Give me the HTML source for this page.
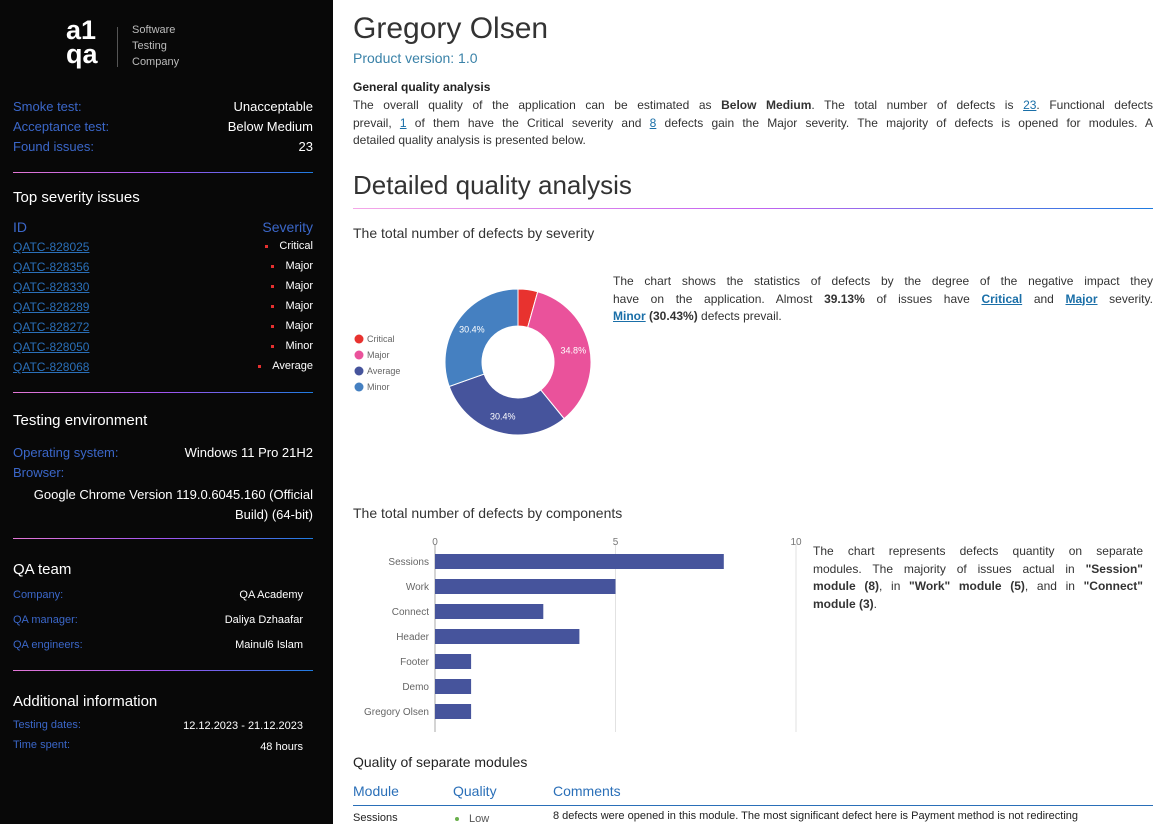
<!DOCTYPE html>
<html><head><meta charset="utf-8">
<style>
*{margin:0;padding:0;box-sizing:border-box}
body{width:1157px;height:824px;overflow:hidden;background:#fff;font-family:"Liberation Sans",sans-serif;position:relative}
.a{position:absolute;white-space:nowrap}
#side{position:absolute;left:0;top:0;width:333px;height:824px;background:#080808;color:#fff}
.lb{color:#3b67c9;font-size:13px}
.vl{color:#fff;font-size:13px;text-align:right}
.sm{font-size:11px}
.hr{position:absolute;left:13px;width:300px;height:1px;background:linear-gradient(90deg,#e377d5,#a154f0,#1e7be0)}
.h3{font-size:15px;color:#fff}
.lnk{color:#2a6fb8;text-decoration:underline;font-size:12px}
.dot{display:inline-block;width:3px;height:3px;background:#e53030;margin-right:11px;vertical-align:middle}
.p{font-size:12px;color:#333;line-height:17.5px;text-align:justify;text-align-last:justify}
.p.last{text-align-last:left}
.u{color:#1a6fa8;text-decoration:underline}
</style></head><body>
<div id="side">
 <div class="a" style="left:66px;top:18px;font-size:27px;font-weight:bold;line-height:24px;color:#fff">a1<br>qa</div>
 <div class="a" style="left:117px;top:27px;width:1px;height:40px;background:#555"></div>
 <div class="a" style="left:132px;top:22px;font-size:11px;line-height:16px;color:#bbb">Software<br>Testing<br>Company</div>

 <div class="a lb" style="left:13px;top:99px">Smoke test:</div><div class="a vl" style="right:20px;top:99px">Unacceptable</div>
 <div class="a lb" style="left:13px;top:119px">Acceptance test:</div><div class="a vl" style="right:20px;top:119px">Below Medium</div>
 <div class="a lb" style="left:13px;top:139px">Found issues:</div><div class="a vl" style="right:20px;top:139px">23</div>
 <div class="hr" style="top:172px"></div>

 <div class="a h3" style="left:13px;top:189px">Top severity issues</div>
 <div class="a lb" style="left:13px;top:219px;font-size:14px">ID</div><div class="a lb" style="right:20px;top:219px;font-size:14px">Severity</div>
 <div id="issues"></div>
 <div class="hr" style="top:392px"></div>

 <div class="a h3" style="left:13px;top:412px">Testing environment</div>
 <div class="a lb" style="left:13px;top:445px">Operating system:</div><div class="a vl" style="right:20px;top:445px">Windows 11 Pro 21H2</div>
 <div class="a lb" style="left:13px;top:465px">Browser:</div>
 <div class="a vl" style="right:20px;top:485px;line-height:20px">Google Chrome Version 119.0.6045.160 (Official<br>Build) (64-bit)</div>
 <div class="hr" style="top:538px"></div>

 <div class="a h3" style="left:13px;top:561px">QA team</div>
 <div class="a lb sm" style="left:13px;top:589px">Company:</div><div class="a vl sm" style="right:30px;top:589px">QA Academy</div>
 <div class="a lb sm" style="left:13px;top:614px">QA manager:</div><div class="a vl sm" style="right:30px;top:614px">Daliya Dzhaafar</div>
 <div class="a lb sm" style="left:13px;top:639px">QA engineers:</div><div class="a vl sm" style="right:30px;top:639px">Mainul6 Islam</div>
 <div class="hr" style="top:670px"></div>

 <div class="a h3" style="left:13px;top:693px">Additional information</div>
 <div class="a lb sm" style="left:13px;top:719px">Testing dates:</div><div class="a vl sm" style="right:30px;top:720px">12.12.2023 - 21.12.2023</div>
 <div class="a lb sm" style="left:13px;top:739px">Time spent:</div><div class="a vl sm" style="right:30px;top:741px">48 hours</div>
</div>

<div class="a" style="left:353px;top:12px;font-size:30px;color:#333">Gregory Olsen</div>
<div class="a" style="left:353px;top:50px;font-size:14px;color:#3a82a8">Product version: 1.0</div>
<div class="a" style="left:353px;top:80px;font-size:12px;font-weight:bold;color:#222">General quality analysis</div>
<div class="a" style="left:353px;top:97px;width:800px;white-space:normal">
 <div class="p">The overall quality of the application can be estimated as <b>Below Medium</b>. The total number of defects is <span class="u">23</span>. Functional defects</div>
 <div class="p">prevail, <span class="u">1</span> of them have the Critical severity and <span class="u">8</span> defects gain the Major severity. The majority of defects is opened for modules. A</div>
 <div class="p last">detailed quality analysis is presented below.</div>
</div>
<div class="a" style="left:353px;top:170px;font-size:26px;color:#333">Detailed quality analysis</div>
<div class="a" style="left:353px;top:208px;width:800px;height:1px;background:linear-gradient(90deg,#f4a8e8,#c463f0,#1e7be0)"></div>
<div class="a" style="left:353px;top:225px;font-size:14px;color:#333">The total number of defects by severity</div>

<svg class="a" id="pie" style="left:345px;top:275px" width="260" height="170"></svg>

<div class="a" style="left:613px;top:273px;width:540px;white-space:normal">
 <div class="p">The chart shows the statistics of defects by the degree of the negative impact they</div>
 <div class="p">have on the application. Almost <b>39.13%</b> of issues have <b class="u">Critical</b> and <b class="u">Major</b> severity.</div>
 <div class="p last"><b class="u">Minor</b> <b>(30.43%)</b> defects prevail.</div>
</div>

<div class="a" style="left:353px;top:505px;font-size:14px;color:#333">The total number of defects by components</div>
<svg class="a" id="bar" style="left:345px;top:530px" width="465" height="205"></svg>

<div class="a" style="left:813px;top:543px;width:330px;white-space:normal">
 <div class="p">The chart represents defects quantity on separate</div>
 <div class="p">modules. The majority of issues actual in <b>"Session"</b></div>
 <div class="p"><b>module (8)</b>, in <b>"Work" module (5)</b>, and in <b>"Connect"</b></div>
 <div class="p last"><b>module (3)</b>.</div>
</div>

<div class="a" style="left:353px;top:754px;font-size:14px;color:#222">Quality of separate modules</div>
<div class="a" style="left:353px;top:783px;font-size:14px;color:#2a6fb8">Module</div>
<div class="a" style="left:453px;top:783px;font-size:14px;color:#2a6fb8">Quality</div>
<div class="a" style="left:553px;top:783px;font-size:14px;color:#2a6fb8">Comments</div>
<div class="a" style="left:353px;top:805px;width:800px;height:1px;background:#2a6fb8"></div>
<div class="a" style="left:353px;top:812px;font-size:11px;color:#222">Sessions</div>
<div class="a" style="left:455px;top:813px;font-size:11px;color:#555"><span style="display:inline-block;width:4px;height:4px;border-radius:2px;background:#6ab04c;margin-right:10px;vertical-align:middle"></span>Low</div>
<div class="a" style="left:553px;top:810px;font-size:11px;color:#222">8 defects were opened in this module. The most significant defect here is Payment method is not redirecting</div>

<script>
const issueIds=["QATC-828025","QATC-828356","QATC-828330","QATC-828289","QATC-828272","QATC-828050","QATC-828068"];
const issueSev=["Critical","Major","Major","Major","Major","Minor","Average"];
const side=document.getElementById('side');
issueIds.forEach((id,i)=>{
 const y=240+i*20;
 const a=document.createElement('div');
 a.className='a lnk';a.style.left='13px';a.style.top=y+'px';a.textContent=id;
 
 
 side.appendChild(a);
 const s=document.createElement('div');
 s.className='a vl sm';s.style.right='20px';s.style.top=y+'px';
 s.innerHTML='<span class="dot"></span>'+issueSev[i];
 
 
 side.appendChild(s);
});

const sevLabels=["Critical","Major","Average","Minor"];
const sevValues=[1,8,7,7];
const sevColors=["#e8322f","#ea529b","#46549c","#4580c1"];
const NS='http://www.w3.org/2000/svg';
const pie=document.getElementById('pie');
const cx=173,cy=87,R=73,r=36;
const tot=sevValues.reduce((a,b)=>a+b,0);
let ang=0;
function pt(a,rad){return [cx+rad*Math.sin(a),cy-rad*Math.cos(a)];}
sevValues.forEach((v,i)=>{
 const a0=ang,a1=ang+v/tot*2*Math.PI;ang=a1;
 const [x0,y0]=pt(a0,R),[x1,y1]=pt(a1,R),[x2,y2]=pt(a1,r),[x3,y3]=pt(a0,r);
 const lg=(a1-a0)>Math.PI?1:0;
 const p=document.createElementNS(NS,'path');
 p.setAttribute('d',`M${x0},${y0}A${R},${R} 0 ${lg} 1 ${x1},${y1}L${x2},${y2}A${r},${r} 0 ${lg} 0 ${x3},${y3}Z`);
 p.setAttribute('fill',sevColors[i]);p.setAttribute('stroke','#fff');p.setAttribute('stroke-width','1');
 
 
 pie.appendChild(p);
 if(v/tot>0.1){
  const [tx,ty]=pt((a0+a1)/2,(R+r)/2+2);
  const t=document.createElementNS(NS,'text');
  t.setAttribute('x',tx);t.setAttribute('y',ty+3);t.setAttribute('text-anchor','middle');
  t.setAttribute('font-size','9');t.setAttribute('fill','#fff');t.setAttribute('font-family','Liberation Sans');
  t.textContent=(v/tot*100).toFixed(1)+'%';
  
  
  pie.appendChild(t);
 }
 const c=document.createElementNS(NS,'circle');
 c.setAttribute('cx',14);c.setAttribute('cy',64+i*16);c.setAttribute('r',4.5);c.setAttribute('fill',sevColors[i]);
 
 
 pie.appendChild(c);
 const lt=document.createElementNS(NS,'text');
 lt.setAttribute('x',22);lt.setAttribute('y',67+i*16);lt.setAttribute('font-size','9');lt.setAttribute('fill','#666');lt.setAttribute('font-family','Liberation Sans');
 lt.textContent=sevLabels[i];
 
 
 pie.appendChild(lt);
});

const compLabels=["Sessions","Work","Connect","Header","Footer","Demo","Gregory Olsen"];
const compValues=[8,5,3,4,1,1,1];
const xTicks=[0,5,10];
const bar=document.getElementById('bar');
const x0=90,xMax=10,pxW=361,top0=24,step=25,bh=15;
const X=v=>x0+v/xMax*pxW;
xTicks.forEach(t=>{
 const l=document.createElementNS(NS,'line');
 l.setAttribute('x1',X(t));l.setAttribute('x2',X(t));l.setAttribute('y1',14);l.setAttribute('y2',202);
 l.setAttribute('stroke',t===0?'#aaa':'#e2e2e2');l.setAttribute('stroke-width','1');
 
 
 bar.appendChild(l);
 const tx=document.createElementNS(NS,'text');
 tx.setAttribute('x',X(t));tx.setAttribute('y',15);tx.setAttribute('text-anchor','middle');
 tx.setAttribute('font-size','10');tx.setAttribute('fill','#777');tx.setAttribute('font-family','Liberation Sans');
 tx.textContent=t;
 
 
 bar.appendChild(tx);
});
compValues.forEach((v,i)=>{
 const y=top0+i*step;
 const rc=document.createElementNS(NS,'rect');
 rc.setAttribute('x',X(0));rc.setAttribute('y',y);rc.setAttribute('width',X(v)-X(0));rc.setAttribute('height',bh);
 rc.setAttribute('fill','#46549c');
 
 
 bar.appendChild(rc);
 const t=document.createElementNS(NS,'text');
 t.setAttribute('x',x0-6);t.setAttribute('y',y+11);t.setAttribute('text-anchor','end');
 t.setAttribute('font-size','10');t.setAttribute('fill','#666');t.setAttribute('font-family','Liberation Sans');
 t.textContent=compLabels[i];
 
 
 bar.appendChild(t);
});
</script>
</body></html>
